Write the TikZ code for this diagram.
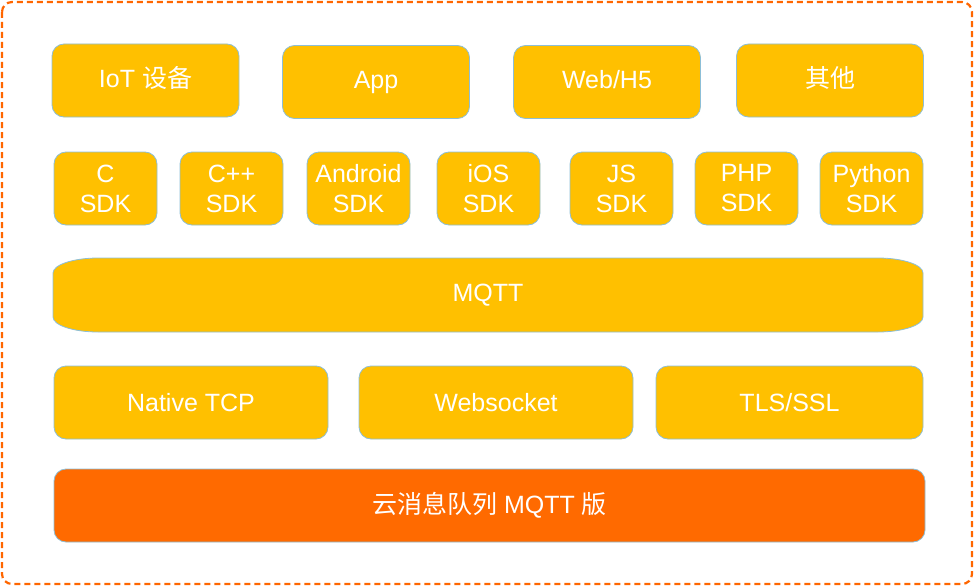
\documentclass[tikz,border=0pt]{standalone}
\usepackage{fontspec}
\setmainfont{Liberation Sans}
\newfontfamily\cjk{Noto Sans CJK SC}
\usetikzlibrary{positioning}
\definecolor{Gold}{RGB}{255,192,0}
\definecolor{Flame}{RGB}{255,106,0}
\definecolor{EdgeBlue}{RGB}{140,190,215}
\definecolor{FrameOrange}{RGB}{255,102,0}
\tikzset{
  layer/.style={draw=EdgeBlue,line width=0.8pt,rounded corners=12pt,fill=Gold,text=white,align=center,font=\fontsize{25}{30}\selectfont,minimum height=73pt,inner sep=2pt},
  client/.style={layer,minimum width=187pt,text height=18pt,text depth=5pt},
  sdk/.style={layer,minimum width=103pt},
  transport/.style={layer,minimum width=274pt},
  cloud/.style={layer,fill=Flame,minimum width=871pt},
  frame/.style={draw=FrameOrange,line width=2.2pt,dash pattern=on 6pt off 4pt,rounded corners=10pt}
}
\begin{document}
\begin{tikzpicture}[x=1pt,y=-1pt]
  \useasboundingbox (0,0) rectangle (974,586);
  \draw[frame] (2,2) rectangle (972,584);
  % clients
  \node[client] (iot) at (145.5,80.5) {IoT {\cjk 设备}};
  \node[client] (app) at (376,82) {App};
  \node[client] (web) at (607,82) {Web/H5};
  \node[client] (other) at (830,80.5) {\cjk 其他};
  % sdks
  \node[sdk] (csdk) at (105.5,188.5) {C\\SDK};
  \node[sdk] (cppsdk) at (231.5,188.5) {C++\\SDK};
  \node[sdk] (andsdk) at (358.5,188.5) {Android\\SDK};
  \node[sdk] (iossdk) at (488.5,188.5) {iOS\\SDK};
  \node[sdk] (jssdk) at (621.5,188.5) {JS\\SDK};
  \node[sdk] (phpsdk) at (746.5,188.5) {PHP\\SDK};
  \node[sdk] (pysdk) at (871.5,188.5) {Python\\SDK};
  % protocol
  \draw[draw=EdgeBlue,line width=0.8pt,fill=Gold] (98,258) -- (878,258)
    .. controls (902.8,258) and (923,264.8) .. (923,273) -- (923,317)
    .. controls (923,325.2) and (902.8,332) .. (878,332) -- (98,332)
    .. controls (73.2,332) and (53,325.2) .. (53,317) -- (53,273)
    .. controls (53,264.8) and (73.2,258) .. cycle;
  \node[text=white,font=\fontsize{25}{30}\selectfont] (mqtt) at (488,295) {MQTT};
  % transports
  \node[transport] (tcp) at (191,402.5) {Native TCP};
  \node[transport] (ws) at (496,402.5) {Websocket};
  \node[transport,minimum width=267pt] (tls) at (789.5,402.5) {TLS/SSL};
  % broker
  \node[cloud] (broker) at (489.5,505.5) {{\cjk 云消息队列} MQTT {\cjk 版}};
\end{tikzpicture}
\end{document}
